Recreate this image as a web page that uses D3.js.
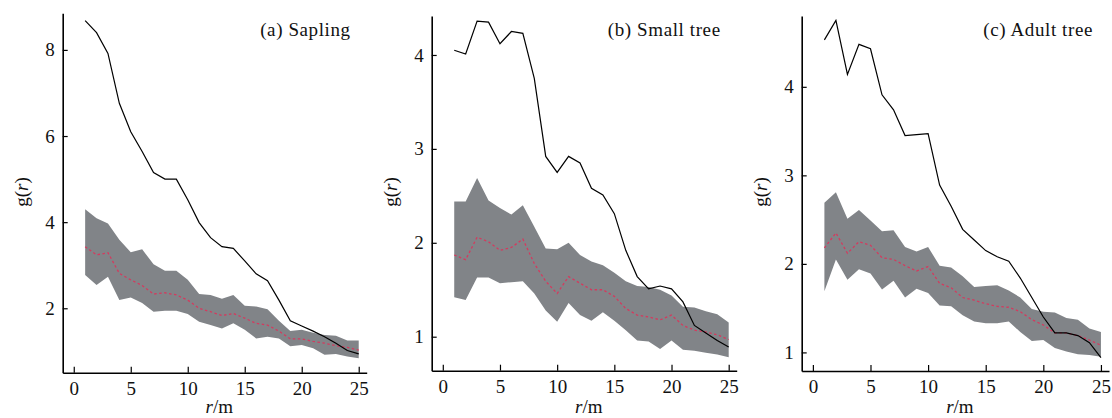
<!DOCTYPE html>
<html>
<head>
<meta charset="utf-8">
<script src="https://cdn.jsdelivr.net/npm/d3@7"></script>
<style>
  body { margin: 0; background: #fff; }
  svg { display: block; }
  text { font-family: "Liberation Serif", "Times New Roman", serif; fill: #111; }
</style>
</head>
<body>
<div id="chart"></div>
<script>

// distances r (m)
const rValues = [1, 2, 3, 4, 5, 6, 7, 8, 9, 10, 11, 12, 13, 14, 15, 16, 17, 18, 19, 20, 21, 22, 23, 24, 25]

// (a) Sapling
const saplingObs   = [8.68, 8.40, 7.92, 6.76, 6.10, 5.64, 5.15, 5.00, 5.00, 4.52, 3.99, 3.64, 3.43, 3.39, 3.10, 2.80, 2.64, 2.19, 1.71, 1.59, 1.47, 1.34, 1.19, 1.02, 0.94]
const saplingUpper = [4.30, 4.09, 3.97, 3.59, 3.30, 3.37, 3.02, 2.87, 2.87, 2.66, 2.33, 2.31, 2.22, 2.31, 2.06, 2.04, 1.98, 1.71, 1.47, 1.50, 1.43, 1.38, 1.36, 1.25, 1.25]
const saplingLower = [2.77, 2.54, 2.73, 2.19, 2.25, 2.12, 1.92, 1.94, 1.94, 1.87, 1.69, 1.61, 1.53, 1.65, 1.50, 1.30, 1.34, 1.30, 1.12, 1.15, 1.07, 0.92, 0.94, 0.88, 0.84]
const saplingMean  = [3.43, 3.24, 3.29, 2.81, 2.66, 2.53, 2.33, 2.36, 2.31, 2.19, 2.00, 1.92, 1.83, 1.88, 1.77, 1.65, 1.61, 1.47, 1.29, 1.29, 1.23, 1.19, 1.13, 1.09, 1.03]

// (b) Small tree
const smallObs   = [4.05, 4.01, 4.36, 4.35, 4.12, 4.25, 4.23, 3.75, 2.92, 2.75, 2.92, 2.85, 2.58, 2.51, 2.31, 1.92, 1.64, 1.51, 1.54, 1.51, 1.37, 1.12, 1.04, 0.96, 0.89]
const smallUpper = [2.44, 2.44, 2.69, 2.45, 2.37, 2.30, 2.40, 2.17, 1.94, 1.93, 2.00, 1.87, 1.80, 1.76, 1.68, 1.59, 1.54, 1.53, 1.50, 1.44, 1.32, 1.31, 1.27, 1.24, 1.15]
const smallLower = [1.42, 1.39, 1.63, 1.63, 1.57, 1.58, 1.59, 1.46, 1.28, 1.16, 1.36, 1.23, 1.17, 1.26, 1.17, 1.07, 0.96, 0.95, 0.87, 0.96, 0.86, 0.85, 0.83, 0.81, 0.78]
const smallMean  = [1.87, 1.82, 2.06, 2.01, 1.92, 1.95, 2.04, 1.78, 1.59, 1.46, 1.64, 1.57, 1.50, 1.50, 1.43, 1.30, 1.23, 1.21, 1.18, 1.23, 1.12, 1.07, 1.05, 1.02, 0.97]

// (c) Adult tree
const adultObs   = [4.53, 4.75, 4.14, 4.48, 4.43, 3.91, 3.74, 3.45, 3.46, 3.47, 2.89, 2.65, 2.39, 2.27, 2.15, 2.08, 2.03, 1.84, 1.62, 1.40, 1.22, 1.22, 1.19, 1.11, 0.94]
const adultUpper = [2.69, 2.81, 2.51, 2.61, 2.49, 2.37, 2.38, 2.19, 2.14, 2.19, 1.98, 1.96, 1.86, 1.74, 1.75, 1.76, 1.70, 1.62, 1.49, 1.46, 1.45, 1.39, 1.37, 1.27, 1.23]
const adultLower = [1.69, 2.05, 1.82, 1.94, 1.89, 1.71, 1.81, 1.62, 1.72, 1.67, 1.53, 1.52, 1.42, 1.35, 1.33, 1.33, 1.35, 1.23, 1.13, 1.14, 1.05, 1.01, 0.98, 0.97, 0.95]
const adultMean  = [2.18, 2.35, 2.12, 2.25, 2.21, 2.07, 2.05, 1.98, 1.92, 1.97, 1.78, 1.73, 1.62, 1.59, 1.55, 1.52, 1.51, 1.46, 1.37, 1.31, 1.22, 1.22, 1.19, 1.14, 1.08]

const panelTitles = ['(a) Sapling', '(b) Small tree', '(c) Adult tree']
const xTicks = [0, 5, 10, 15, 20, 25]
const yTicksA = [2, 4, 6, 8]
const yTicksB = [1, 2, 3, 4]
const yTicksC = [1, 2, 3, 4]

const width = 1112
const height = 418

const svg = d3.select('#chart')
    .append('svg')
    .attr('width', width)
    .attr('height', height)

// layout of each panel (axis box in px and visible value range)
const panels = [
    { title: panelTitles[0], obs: saplingObs, up: saplingUpper, lo: saplingLower, mean: saplingMean,
      yTicks: yTicksA, yDomain: [0.504, 8.85], left: 62.7, right: 366.7, top: 13.3, bottom: 372.7 },
    { title: panelTitles[1], obs: smallObs, up: smallUpper, lo: smallLower, mean: smallMean,
      yTicks: yTicksB, yDomain: [0.638, 4.415], left: 431.7, right: 736.7, top: 16, bottom: 370.7 },
    { title: panelTitles[2], obs: adultObs, up: adultUpper, lo: adultLower, mean: adultMean,
      yTicks: yTicksC, yDomain: [0.79, 4.80], left: 801.7, right: 1109, top: 16, bottom: 371 }
]

const drawPanel = (p) => {
    const xScale = d3.scaleLinear()
        .domain([-0.97, 25.7])
        .range([p.left, p.right])
    const yScale = d3.scaleLinear()
        .domain(p.yDomain)
        .range([p.bottom, p.top])

    const g = svg.append('g')

    const rows = rValues.map((r, i) => ({ r, obs: p.obs[i], up: p.up[i], lo: p.lo[i], mean: p.mean[i] }))

    const band = d3.area()
        .x((d) => xScale(d.r))
        .y0((d) => yScale(d.lo))
        .y1((d) => yScale(d.up))

    g.append('path')
        .datum(rows)
        .attr('fill', '#818488')
        .attr('d', band)

    g.append('path')
        .datum(rows)
        .attr('fill', 'none')
        .attr('stroke', '#d43a5e')
        .attr('stroke-width', 1.3)
        .attr('stroke-dasharray', '2.5,2.5')
        .attr('d', d3.line().x((d) => xScale(d.r)).y((d) => yScale(d.mean)))

    g.append('path')
        .datum(rows)
        .attr('fill', 'none')
        .attr('stroke', '#000')
        .attr('stroke-width', 1.2)
        .attr('d', d3.line().x((d) => xScale(d.r)).y((d) => yScale(d.obs)))

    const xAxis = g.append('g')
        .attr('transform', `translate(0,${p.bottom})`)
        .call(d3.axisBottom(xScale).tickValues(xTicks).tickFormat(d3.format('d'))
            .tickSizeInner(-6).tickSizeOuter(0).tickPadding(9))
    const yAxis = g.append('g')
        .attr('transform', `translate(${p.left},0)`)
        .call(d3.axisLeft(yScale).tickValues(p.yTicks).tickFormat(d3.format('d'))
            .tickSizeInner(-5).tickSizeOuter(0).tickPadding(8))

    ;[xAxis, yAxis].forEach((ax) => {
        ax.attr('font-family', null).attr('font-size', null)
        ax.select('.domain').attr('stroke', '#000').attr('stroke-width', 1.6)
        ax.selectAll('.tick line').attr('stroke', '#000').attr('stroke-width', 1.2)
        ax.selectAll('.tick text')
            .attr('fill', '#111')
            .style('font-family', '"Liberation Serif", serif')
            .style('font-size', '19px')
    })

    g.append('text')
        .attr('x', p.right - 16)
        .attr('y', 36)
        .attr('text-anchor', 'end')
        .style('font-size', '19px')
        .style('letter-spacing', '0.6px')
        .text(p.title)

    const yLab = g.append('text')
        .attr('transform', `translate(${p.left - 35},192) rotate(-90)`)
        .attr('text-anchor', 'middle')
        .style('font-size', '19px')
    yLab.append('tspan').text('g(')
    yLab.append('tspan').style('font-style', 'italic').text('r')
    yLab.append('tspan').text(')')

    const xLab = g.append('text')
        .attr('x', xScale(12.5) + 3)
        .attr('y', 413)
        .attr('text-anchor', 'middle')
        .style('font-size', '19px')
    xLab.append('tspan').style('font-style', 'italic').text('r')
    xLab.append('tspan').text('/m')
}

panels.forEach(drawPanel)

</script>
</body>
</html>
